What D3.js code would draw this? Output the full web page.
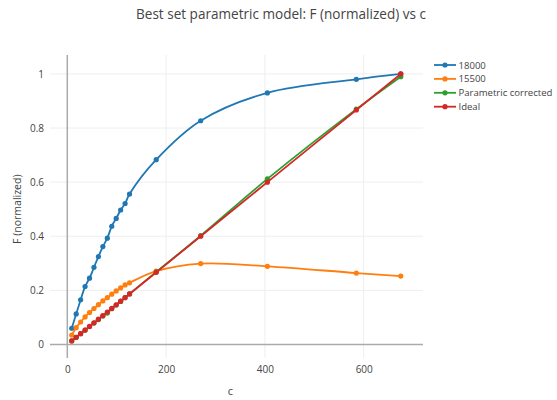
<!DOCTYPE html>
<html>
<head>
<meta charset="utf-8">
<script src="https://cdn.jsdelivr.net/npm/d3@7"></script>
<style>
  body { margin: 0; background: #fff; }
  svg text { font-family: "Open Sans", "DejaVu Sans", sans-serif; fill: #444; }
</style>
</head>
<body>
<div id="chart"></div>
<script>
// data
var cValues = [9, 18, 27, 36, 45, 54, 63, 72, 81, 90, 99, 108, 117, 126, 180, 270, 405, 585, 675];
var f18000 = [0.06, 0.113, 0.165, 0.214, 0.245, 0.285, 0.325, 0.362, 0.393, 0.437, 0.466, 0.497, 0.521, 0.556, 0.683, 0.827, 0.93, 0.98, 1.0];
var f15500 = [0.035, 0.062, 0.083, 0.102, 0.118, 0.133, 0.147, 0.161, 0.173, 0.186, 0.198, 0.209, 0.22, 0.228, 0.271, 0.299, 0.289, 0.264, 0.253];
var fParam = [0.013, 0.026, 0.04, 0.053, 0.066, 0.079, 0.092, 0.105, 0.116, 0.132, 0.146, 0.159, 0.173, 0.187, 0.268, 0.402, 0.612, 0.87, 0.99];
var fIdeal = cValues.map(function(c) { return c / 675; });  // ideal = c / c_max

var seriesNames = ["18000", "15500", "Parametric corrected", "Ideal"];
var seriesColors = ["#1f77b4", "#ff7f0e", "#2ca02c", "#d62728"];
var xTicks = [0, 200, 400, 600];
var yTicks = [0, 0.2, 0.4, 0.6, 0.8, 1];

var series = [f18000, f15500, fParam, fIdeal].map(function(vals, i) {
  return {
    name: seriesNames[i],
    color: seriesColors[i],
    pts: vals.map(function(v, j) { return {x: cValues[j], y: v}; })
  };
});

var W = 557, H = 400;
var margin = {top: 55, right: 134, bottom: 42, left: 50};
var width = W - margin.left - margin.right,
    height = H - margin.top - margin.bottom;

var svg = d3.select("#chart").append("svg")
    .attr("width", W)
    .attr("height", H);

// shrink/grow a text node so it spans the wanted width
function fitWidth(sel, target) {
  var node = sel.node();
  var fs = parseFloat(sel.style("font-size"));
  var w = node.getComputedTextLength();
  sel.style("font-size", (fs * target / w).toFixed(2) + "px");
  return fs * target / w;
}

var g = svg.append("g").attr("transform", `translate(${margin.left},${margin.top})`);

var xScale = d3.scaleLinear().domain([-35, 720]).range([0, width]);
var yScale = d3.scaleLinear().domain([-0.05, 1.07]).range([height, 0]);

// grid
g.selectAll("line.xgrid")
  .data(xTicks.filter(d => d !== 0))
  .join("line")
    .attr("class", "xgrid")
    .attr("x1", d => xScale(d)).attr("x2", d => xScale(d))
    .attr("y1", 0).attr("y2", height)
    .attr("stroke", "#eee");

g.selectAll("line.ygrid")
  .data(yTicks.filter(d => d !== 0))
  .join("line")
    .attr("class", "ygrid")
    .attr("x1", 0).attr("x2", width)
    .attr("y1", d => yScale(d)).attr("y2", d => yScale(d))
    .attr("stroke", "#eee");

// zero lines
g.append("line")
  .attr("x1", xScale(0)).attr("x2", xScale(0))
  .attr("y1", 0).attr("y2", height)
  .attr("stroke", "#aaa").attr("stroke-width", 1.5);
g.append("line")
  .attr("x1", 0).attr("x2", width)
  .attr("y1", yScale(0)).attr("y2", yScale(0))
  .attr("stroke", "#aaa").attr("stroke-width", 1.5);

// axes (labels only)
var xAxis = g.append("g")
  .attr("transform", `translate(0,${height})`)
  .call(d3.axisBottom(xScale).tickValues(xTicks).tickSize(0).tickPadding(8));
xAxis.select(".domain").remove();
xAxis.attr("font-family", null);
xAxis.selectAll("text").style("font-size", "10px").attr("fill", "#444");

var yAxis = g.append("g")
  .call(d3.axisLeft(yScale).tickValues(yTicks).tickSize(0).tickPadding(6).tickFormat(d3.format("")));
yAxis.select(".domain").remove();
yAxis.attr("font-family", null);
yAxis.selectAll("text").style("font-size", "10px").attr("fill", "#444");

// lines + markers
var line = d3.line()
  .x(d => xScale(d.x))
  .y(d => yScale(d.y))
  .curve(d3.curveCatmullRom.alpha(0.5));

var sg = g.selectAll("g.series")
  .data(series)
  .join("g")
    .attr("class", "series");

sg.append("path")
  .attr("fill", "none")
  .attr("stroke", d => d.color)
  .attr("stroke-width", 1.8)
  .attr("d", d => line(d.pts));

sg.selectAll("circle")
  .data(d => d.pts.map(p => ({x: p.x, y: p.y, c: d.color})))
  .join("circle")
    .attr("cx", d => xScale(d.x))
    .attr("cy", d => yScale(d.y))
    .attr("r", 2.6)
    .attr("fill", d => d.c);

// titles
var title = svg.append("text")
  .attr("x", 281).attr("y", 19)
  .attr("text-anchor", "middle")
  .style("font-size", "12px")
  .text("Best set parametric model: F (normalized) vs c");
fitWidth(title, 290);

svg.append("text")
  .attr("x", margin.left + xScale(330)).attr("y", 395)
  .attr("text-anchor", "middle")
  .style("font-size", "11px")
  .text("c");

svg.append("text")
  .attr("transform", `translate(21,${margin.top + yScale(0.5)}) rotate(-90)`)
  .attr("text-anchor", "middle")
  .style("font-size", "10.5px")
  .text("F (normalized)");

// legend
var legendG = svg.append("g").attr("transform", "translate(434,65)");
var leg = legendG.selectAll("g")
  .data(series)
  .join("g")
    .attr("transform", (d, i) => `translate(0,${i * 13.9})`);
leg.append("line")
  .attr("x1", 0).attr("x2", 22)
  .attr("stroke", d => d.color).attr("stroke-width", 1.8);
leg.append("circle")
  .attr("cx", 11).attr("r", 2.6)
  .attr("fill", d => d.color);
var legTxt = leg.append("text")
  .attr("x", 24.5).attr("y", 3.5)
  .style("font-size", "10px")
  .text(d => d.name);
// size all legend texts off the longest label
var legSize = fitWidth(legTxt.filter((d, i) => i === 2), 94);
legTxt.style("font-size", legSize.toFixed(2) + "px");
</script>
</body>
</html>
